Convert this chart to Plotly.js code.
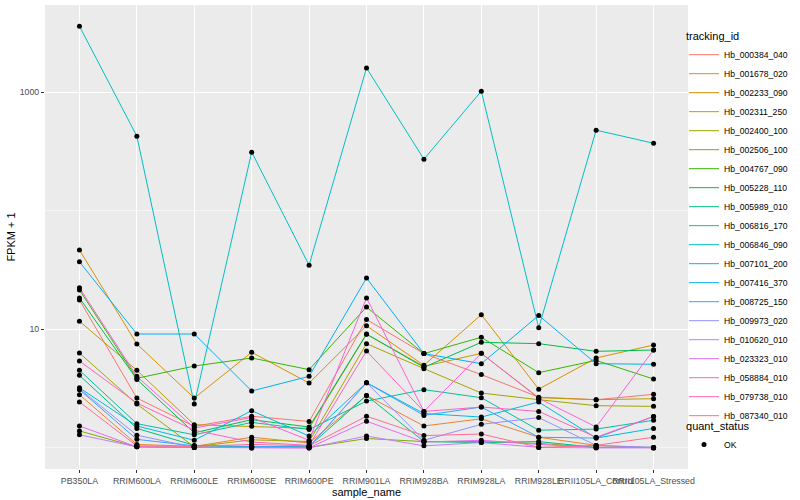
<!DOCTYPE html>
<html><head><meta charset="utf-8">
<script src="https://cdn.plot.ly/plotly-3.0.1.min.js"></script>
<style>html,body{margin:0;padding:0;background:#fff}#chart{width:800px;height:500px}</style>
</head><body><div id="chart"></div>
<script>
const samples = ["PB350LA","RRIM600LA","RRIM600LE","RRIM600SE","RRIM600PE","RRIM901LA","RRIM928BA","RRIM928LA","RRIM928LE","RRII105LA_Control","RRII105LA_Stressed"];
const trackingIds = ["Hb_000384_040","Hb_001678_020","Hb_002233_090","Hb_002311_250","Hb_002400_100","Hb_002506_100","Hb_004767_090","Hb_005228_110","Hb_005989_010","Hb_006816_170","Hb_006846_090","Hb_007101_200","Hb_007416_370","Hb_008725_150","Hb_009973_020","Hb_010620_010","Hb_023323_010","Hb_058884_010","Hb_079738_010","Hb_087340_010"];
const colors = ["#F8766D","#EA8331","#D89000","#C09B00","#A3A500","#7CAE00","#39B600","#00BB4E","#00BF7D","#00C1A3","#00BFC4","#00BAE0","#00B0F6","#35A2FF","#9590FF","#C77CFF","#E76BF3","#FA62DB","#FF62BC","#FF6C91"];

const Hb_000384_040 = [17.7, 2.63, 1.52, 1.85, 1.67, 12.1, 6.24, 4.15, 2.68, 2.55, 2.83];
const Hb_001678_020 = [2.81, 1.07, 1.03, 1.23, 1.10, 2.77, 1.53, 1.76, 1.23, 1.05, 1.00];
const Hb_002233_090 = [46.7, 7.52, 2.63, 6.40, 3.52, 10.7, 4.97, 13.3, 3.13, 5.73, 7.37];
const Hb_002311_250 = [11.7, 4.51, 1.57, 1.52, 1.46, 9.07, 4.87, 6.27, 2.65, 2.55, 2.60];
const Hb_002400_100 = [6.31, 2.34, 1.02, 1.17, 1.13, 7.57, 4.66, 2.90, 2.55, 2.27, 2.24];
const Hb_002506_100 = [1.39, 1.02, 1.01, 1.02, 1.01, 1.20, 1.13, 1.13, 1.09, 1.01, 1.01];
const Hb_004767_090 = [21.5, 3.86, 4.90, 5.73, 4.57, 15.4, 6.24, 8.56, 4.31, 5.47, 3.81];
const Hb_005228_110 = [18.4, 3.78, 1.34, 1.73, 1.50, 9.13, 4.78, 7.77, 7.57, 6.52, 6.69];
const Hb_005989_010 = [4.09, 1.46, 1.05, 1.02, 1.03, 2.77, 1.13, 1.11, 1.13, 1.01, 1.01];
const Hb_006816_170 = [4.51, 1.60, 1.29, 1.64, 1.43, 2.48, 3.10, 2.65, 1.41, 1.44, 1.71];
const Hb_006846_090 = [3600, 425, 2.34, 312, 34.7, 1600, 272, 1019, 10.3, 478, 371];
const Hb_007101_200 = [3.21, 1.53, 1.16, 2.06, 1.26, 3.55, 1.95, 1.82, 2.44, 1.21, 1.46];
const Hb_007416_370 = [37.1, 9.13, 9.13, 3.02, 4.01, 27.1, 6.24, 5.13, 13.1, 5.13, 5.07];
const Hb_008725_150 = [3.10, 1.18, 1.04, 1.03, 1.02, 3.55, 1.88, 2.21, 1.23, 1.21, 1.84];
const Hb_009973_020 = [3.15, 1.28, 1.01, 1.01, 1.01, 3.55, 1.16, 1.58, 1.80, 1.05, 1.01];
const Hb_010620_010 = [1.29, 1.02, 1.01, 1.00, 1.00, 1.26, 1.04, 1.11, 1.01, 1.00, 1.00];
const Hb_023323_010 = [1.53, 1.02, 1.01, 1.00, 1.00, 1.68, 1.12, 1.16, 1.07, 1.01, 1.01];
const Hb_058884_010 = [22.4, 4.01, 1.47, 1.80, 1.16, 18.4, 2.03, 6.27, 2.62, 1.50, 6.69];
const Hb_079738_010 = [5.40, 2.39, 1.41, 1.12, 1.05, 6.56, 2.03, 2.21, 2.03, 1.23, 1.84];
const Hb_087340_010 = [2.44, 1.04, 1.03, 1.07, 1.04, 1.85, 1.27, 1.31, 1.01, 1.05, 1.23];

const yTicks = [10, 1000];
const yTickText = ["10", "1000"];
const yMinor = [1, 100];

const seriesValues = [Hb_000384_040, Hb_001678_020, Hb_002233_090, Hb_002311_250, Hb_002400_100, Hb_002506_100, Hb_004767_090, Hb_005228_110, Hb_005989_010, Hb_006816_170, Hb_006846_090, Hb_007101_200, Hb_007416_370, Hb_008725_150, Hb_009973_020, Hb_010620_010, Hb_023323_010, Hb_058884_010, Hb_079738_010, Hb_087340_010];

const traces = trackingIds.map((id, i) => ({
  type: 'scatter', mode: 'lines', name: id, x: samples, y: seriesValues[i],
  line: {color: colors[i], width: 1}, legend: 'legend', hoverinfo: 'skip'
}));
const px = [], py = [];
seriesValues.forEach(v => v.forEach((val, j) => { px.push(samples[j]); py.push(val); }));
traces.push({type: 'scatter', mode: 'markers', name: 'OK', x: px, y: py,
  marker: {color: '#000', size: 5, symbol: 'circle'}, legend: 'legend2', hoverinfo: 'skip'});

const font = "Liberation Sans, Arial, sans-serif";
const layout = {
  width: 800, height: 500,
  margin: {l: 45, r: 112, t: 5, b: 31, autoexpand: false},
  paper_bgcolor: '#fff', plot_bgcolor: '#EBEBEB',
  font: {family: font, size: 9, color: '#000'},
  showlegend: true,
  xaxis: {
    type: 'category', categoryarray: samples, range: [-0.6, 10.6],
    showgrid: true, gridcolor: '#fff', gridwidth: 1.1, zeroline: false, showline: false,
    ticks: 'outside', ticklen: 3, tickcolor: '#333', tickwidth: 1, tickangle: 0,
    tickfont: {family: font, size: 8.8, color: '#4D4D4D'},
    title: {text: 'sample_name', font: {family: font, size: 11, color: '#000'}, standoff: 0},
    automargin: false
  },
  yaxis: {
    type: 'log', range: [-0.178, 3.735],
    tickmode: 'array', tickvals: yTicks, ticktext: yTickText,
    showgrid: true, gridcolor: '#fff', gridwidth: 1.1, zeroline: false, showline: false,
    ticks: 'outside', ticklen: 3, tickcolor: '#333', tickwidth: 1,
    tickfont: {family: font, size: 8.8, color: '#4D4D4D'},
    minor: {tickmode: 'array', tickvals: yMinor, showgrid: true, gridcolor: '#fff', gridwidth: 0.5, ticks: ''},
    title: {text: 'FPKM + 1', font: {family: font, size: 11, color: '#000'}, standoff: 1},
    automargin: false
  },
  legend: {
    x: 0.9938, xanchor: 'left', y: 0.955, yanchor: 'top',
    title: {text: 'tracking_id', font: {family: font, size: 11, color: '#000'}},
    font: {family: font, size: 8.6, color: '#000'},
    bgcolor: 'rgba(0,0,0,0)', itemwidth: 30, tracegroupgap: 0
  },
  legend2: {
    x: 0.9938, xanchor: 'left', y: 0.115, yanchor: 'top',
    title: {text: 'quant_status', font: {family: font, size: 11, color: '#000'}},
    font: {family: font, size: 8.6, color: '#000'},
    bgcolor: 'rgba(0,0,0,0)', itemwidth: 30
  }
};
Plotly.newPlot('chart', traces, layout, {staticPlot: true, displayModeBar: false});
</script></body></html>
